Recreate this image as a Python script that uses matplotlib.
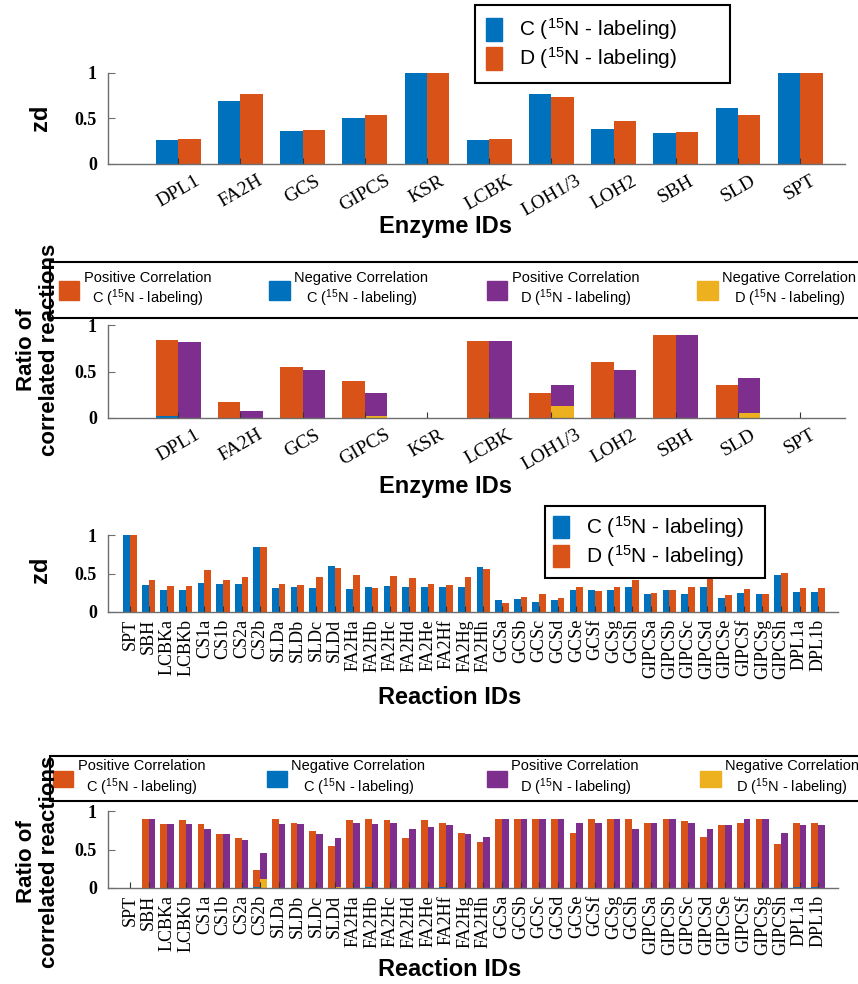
import numpy as np
import matplotlib.pyplot as plt
from matplotlib.patches import Patch

plt.rcParams['mathtext.fontset'] = 'custom'
plt.rcParams['mathtext.rm'] = 'Liberation Sans'
plt.rcParams['mathtext.it'] = 'Liberation Sans:italic'
plt.rcParams['mathtext.bf'] = 'Liberation Sans:bold'

# enzyme level data
enzymes = ['DPL1', 'FA2H', 'GCS', 'GIPCS', 'KSR', 'LCBK', 'LOH1/3', 'LOH2', 'SBH', 'SLD', 'SPT']
zd_enz_C = [0.26, 0.69, 0.36, 0.50, 1.00, 0.26, 0.77, 0.39, 0.34, 0.61, 1.00]
zd_enz_D = [0.27, 0.77, 0.37, 0.54, 1.00, 0.27, 0.74, 0.47, 0.35, 0.54, 1.00]

enz_pos_C = [0.84, 0.17, 0.55, 0.40, 0.0, 0.83, 0.27, 0.60, 0.89, 0.35, 0.0]
enz_neg_C = [0.02, 0.0, 0.0, 0.0, 0.0, 0.0, 0.0, 0.0, 0.0, 0.0, 0.0]
enz_pos_D = [0.82, 0.07, 0.52, 0.27, 0.0, 0.83, 0.35, 0.52, 0.89, 0.43, 0.0]
enz_neg_D = [0.0, 0.0, 0.0, 0.02, 0.0, 0.0, 0.13, 0.0, 0.0, 0.05, 0.0]

# reaction level data
reactions = ['SPT', 'SBH', 'LCBKa', 'LCBKb', 'CS1a', 'CS1b', 'CS2a', 'CS2b',
             'SLDa', 'SLDb', 'SLDc', 'SLDd',
             'FA2Ha', 'FA2Hb', 'FA2Hc', 'FA2Hd', 'FA2He', 'FA2Hf', 'FA2Hg', 'FA2Hh',
             'GCSa', 'GCSb', 'GCSc', 'GCSd', 'GCSe', 'GCSf', 'GCSg', 'GCSh',
             'GIPCSa', 'GIPCSb', 'GIPCSc', 'GIPCSd', 'GIPCSe', 'GIPCSf', 'GIPCSg', 'GIPCSh',
             'DPL1a', 'DPL1b']
zd_rxn_C = [1.00, 0.35, 0.29, 0.29, 0.38, 0.37, 0.37, 0.85,
            0.31, 0.33, 0.31, 0.60,
            0.30, 0.32, 0.34, 0.33, 0.32, 0.33, 0.32, 0.59,
            0.16, 0.17, 0.13, 0.16, 0.28, 0.28, 0.28, 0.33,
            0.24, 0.28, 0.24, 0.32, 0.18, 0.25, 0.24, 0.48,
            0.26, 0.26]
zd_rxn_D = [1.00, 0.42, 0.34, 0.34, 0.54, 0.41, 0.45, 0.85,
            0.36, 0.35, 0.45, 0.57,
            0.48, 0.31, 0.47, 0.44, 0.37, 0.35, 0.45, 0.56,
            0.12, 0.19, 0.23, 0.18, 0.32, 0.27, 0.33, 0.41,
            0.25, 0.29, 0.33, 0.43, 0.22, 0.30, 0.24, 0.51,
            0.31, 0.31]

rxn_pos_C = [0.0, 0.89, 0.83, 0.88, 0.83, 0.70, 0.65, 0.23,
             0.89, 0.85, 0.74, 0.55,
             0.88, 0.89, 0.88, 0.65, 0.88, 0.85, 0.72, 0.60,
             0.89, 0.89, 0.89, 0.89, 0.72, 0.89, 0.89, 0.89,
             0.84, 0.89, 0.87, 0.66, 0.82, 0.84, 0.89, 0.57,
             0.84, 0.84]
rxn_neg_C = [0.0, 0.0, 0.0, 0.0, 0.0, 0.0, 0.0, 0.015,
             0.0, 0.0, 0.0, 0.0,
             0.0, 0.01, 0.0, 0.0, 0.0, 0.01, 0.0, 0.0,
             0.0, 0.0, 0.0, 0.0, 0.0, 0.0, 0.0, 0.0,
             0.0, 0.0, 0.0, 0.0, 0.0, 0.0, 0.0, 0.0,
             0.01, 0.01]
rxn_pos_D = [0.0, 0.89, 0.83, 0.83, 0.77, 0.70, 0.62, 0.45,
             0.83, 0.83, 0.70, 0.65,
             0.85, 0.83, 0.85, 0.77, 0.79, 0.82, 0.70, 0.66,
             0.89, 0.89, 0.89, 0.89, 0.84, 0.84, 0.89, 0.76,
             0.84, 0.89, 0.84, 0.76, 0.82, 0.89, 0.89, 0.72,
             0.82, 0.82]
rxn_neg_D = [0.0, 0.0, 0.0, 0.0, 0.0, 0.0, 0.0, 0.12,
             0.0, 0.0, 0.0, 0.01,
             0.0, 0.0, 0.0, 0.0, 0.0, 0.0, 0.0, 0.0,
             0.0, 0.0, 0.0, 0.0, 0.0, 0.0, 0.0, 0.0,
             0.0, 0.0, 0.0, 0.0, 0.0, 0.0, 0.0, 0.0,
             0.0, 0.0]

blue = '#0072BD'
orange = '#D95319'
yellow = '#EDB120'
purple = '#7E2F8E'

lab_C = 'C ($^{15}$N - labeling)'
lab_D = 'D ($^{15}$N - labeling)'
W = 858.0
H = 984.0


def fig_box(x0, y0, x1, y1):
    # pixel box -> figure fraction [left, bottom, width, height]
    return [x0 / W, 1 - y1 / H, (x1 - x0) / W, (y1 - y0) / H]


def style(ax, labels, xlim, rot):
    x = np.arange(1, len(labels) + 1)
    ax.set_xlim(*xlim)
    ax.set_ylim(0, 1)
    ax.set_yticks([0, 0.5, 1])
    ax.set_yticklabels(['0', '0.5', '1'], fontfamily='Liberation Serif',
                       fontweight='bold', fontsize=13)
    ax.set_xticks(x)
    if rot == 90:
        ax.set_xticklabels(labels, rotation=90, fontfamily='Liberation Serif',
                           fontsize=13, va='top', ha='center')
        ax.tick_params(axis='x', pad=5)
    else:
        ax.set_xticklabels(labels, rotation=rot, fontfamily='Liberation Serif',
                           fontsize=14, ha='center', va='top')
        ax.tick_params(axis='x', pad=6)
    for s in ['top', 'right']:
        ax.spines[s].set_visible(False)
    for s in ['left', 'bottom']:
        ax.spines[s].set_color('#6e6e6e')
        ax.spines[s].set_linewidth(1.0)
    ax.tick_params(axis='y', direction='in', length=5, color='#6e6e6e', pad=8)
    ax.tick_params(axis='x', direction='in', length=4, color='#333333')
    ax.set_facecolor('none')
    return x


def zd_bars(ax, x, c, d, w):
    ax.bar(x - w / 2, c, w, color=blue, zorder=0)
    ax.bar(x + w / 2, d, w, color=orange, zorder=0)


def ratio_bars(ax, x, pc, nc, pd_, nd, w):
    ax.bar(x - w / 2, pc, w, color=orange, zorder=0)
    ax.bar(x - w / 2, nc, w, color=blue, zorder=0)
    ax.bar(x + w / 2, pd_, w, color=purple, zorder=0)
    ax.bar(x + w / 2, nd, w, color=yellow, zorder=0)


def zd_legend(ax, x_px, y_px, w_px, h_px, pad):
    lg = ax.legend(handles=[Patch(color=blue, label=lab_C), Patch(color=orange, label=lab_D)],
                   loc='upper left', mode='expand',
                   bbox_to_anchor=(x_px / W, 1 - (y_px + h_px) / H, w_px / W, h_px / H),
                   bbox_transform=fig.transFigure, borderaxespad=0,
                   handlelength=0.75, handleheight=1.3, handletextpad=0.8,
                   labelspacing=0.15, borderpad=pad, fancybox=False, framealpha=1,
                   edgecolor='black', prop={'family': 'Liberation Sans', 'size': 15})
    lg.get_frame().set_linewidth(1.5)
    return lg


def ratio_legend(ax, top_px, bottom_px, pad, hh, w_px):
    hs = [Patch(color=orange, label='Positive Correlation\n' + lab_C),
          Patch(color=blue, label='Negative Correlation\n' + lab_C),
          Patch(color=purple, label='Positive Correlation\n' + lab_D),
          Patch(color=yellow, label='Negative Correlation\n' + lab_D)]
    # frame runs past the right edge of the figure, as in the original
    lg = ax.legend(handles=hs, loc='upper left', ncol=4, mode='expand',
                   bbox_to_anchor=(50 / W, 1 - bottom_px / H, w_px / W, (bottom_px - top_px) / H),
                   bbox_transform=fig.transFigure, borderaxespad=0, handlelength=1.4,
                   handleheight=hh, handletextpad=0.3, columnspacing=0.4,
                   borderpad=pad, fancybox=False, framealpha=1, edgecolor='black',
                   prop={'family': 'Liberation Sans', 'size': 10.5})
    lg.get_frame().set_linewidth(1.5)
    for t in lg.get_texts():
        t.set_multialignment('center')
    return lg


fig = plt.figure(figsize=(8.58, 9.84), dpi=100)

# panel 1
ax1 = fig.add_axes(fig_box(108, 73, 845, 164))
x = style(ax1, enzymes, (-0.13, 11.72), 30)
zd_bars(ax1, x, zd_enz_C, zd_enz_D, 0.36)
fig.text(445 / W, 1 - 226 / H, 'Enzyme IDs', ha='center', va='center',
         fontsize=17, fontweight='bold', family='Liberation Sans')
fig.text(40 / W, 1 - 118 / H, 'zd', rotation=90, ha='center', va='center',
         fontsize=17, fontweight='bold', family='Liberation Sans')
zd_legend(ax1, 475, 5, 255, 73, 0.55)

# panel 2
ax2 = fig.add_axes(fig_box(108, 325, 845, 418))
x = style(ax2, enzymes, (-0.13, 11.72), 30)
ratio_bars(ax2, x, enz_pos_C, enz_neg_C, enz_pos_D, enz_neg_D, 0.36)
fig.text(445 / W, 1 - 486 / H, 'Enzyme IDs', ha='center', va='center',
         fontsize=17, fontweight='bold', family='Liberation Sans')
fig.text(38 / W, 1 - 350 / H, 'Ratio of\ncorrelated reactions', rotation=90,
         ha='center', va='center', fontsize=16, fontweight='bold',
         family='Liberation Sans', linespacing=1.15)
ratio_legend(ax2, 262, 320, 0.6, 1.6, 815)

# panel 3
ax3 = fig.add_axes(fig_box(108, 535, 838, 612))
x = style(ax3, reactions, (-0.18, 39.07), 90)
zd_bars(ax3, x, zd_rxn_C, zd_rxn_D, 0.36)
fig.text(450 / W, 1 - 698 / H, 'Reaction IDs', ha='center', va='center',
         fontsize=17, fontweight='bold', family='Liberation Sans')
fig.text(40 / W, 1 - 570 / H, 'zd', rotation=90, ha='center', va='center',
         fontsize=17, fontweight='bold', family='Liberation Sans')
zd_legend(ax3, 545, 506, 220, 71, 0.4)

# panel 4
ax4 = fig.add_axes(fig_box(108, 811, 838, 888))
x = style(ax4, reactions, (-0.18, 39.07), 90)
ratio_bars(ax4, x, rxn_pos_C, rxn_neg_C, rxn_pos_D, rxn_neg_D, 0.36)
fig.text(450 / W, 1 - 970 / H, 'Reaction IDs', ha='center', va='center',
         fontsize=17, fontweight='bold', family='Liberation Sans')
fig.text(38 / W, 1 - 862 / H, 'Ratio of\ncorrelated reactions', rotation=90,
         ha='center', va='center', fontsize=16, fontweight='bold',
         family='Liberation Sans', linespacing=1.15)
ratio_legend(ax4, 756, 803, 0.2, 1.3, 812)

fig.savefig('out.png', dpi=100)
